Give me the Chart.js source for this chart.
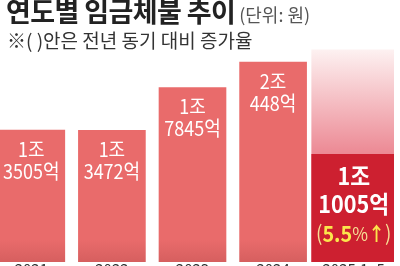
<!DOCTYPE html>
<html>
<head>
<meta charset="UTF-8">
<title>연도별 임금체불 추이</title>
<script src="https://cdn.jsdelivr.net/npm/chart.js"></script>
<style>
  html, body { margin: 0; padding: 0; width: 400px; height: 266px; overflow: hidden; background: #fff; }
  #wrap { position: relative; width: 400px; height: 266px; overflow: hidden; font-family: "Noto Sans CJK KR", sans-serif; }
  #chartBox { position: absolute; left: -9px; top: 0; width: 403px; height: 278px; }
  .title { position: absolute; left: 6px; top: -4px; font-size: 27px; font-weight: 700; color: #222; letter-spacing: -0.6px; white-space: nowrap; line-height: 30px; }
  .title span { font-size: 18px; font-weight: 400; color: #555; margin-left: 4px; letter-spacing: 0; }
  .note { position: absolute; left: 7px; top: 28px; font-size: 19px; color: #333; white-space: nowrap; line-height: 24px; }
</style>
</head>
<body>
<div id="wrap">
  <div id="chartBox"><canvas id="wageChart"></canvas></div>
  <div class="title">연도별 임금체불 추이<span>(단위: 원)</span></div>
  <div class="note">※( )안은 전년 동기 대비 증가율</div>
</div>

<script>
  // 단위: 억원
  const years = ['2021', '2022', '2023', '2024', '2025.1~5'];
  const pastValues = [13505, 13472, 17845, 20448, null];
  const currentValues = [null, null, null, null, 11005];
  const backdropValues = [null, null, null, null, 21700];
  const currentChange = '5.5';

  // 조 / 억 으로 나누기
  function splitWon(v) {
    return [Math.floor(v / 10000) + '조', (v % 10000) + '억'];
  }

  function pastColor(c) {
    const area = c.chart.chartArea;
    if (!area) return '#e86a6a';
    const g = c.chart.ctx.createLinearGradient(0, area.bottom - 22, 0, area.bottom);
    g.addColorStop(0, '#e96b6b');
    g.addColorStop(1, '#d65f5f');
    return g;
  }

  function backdropColor(c) {
    const chart = c.chart;
    const y = chart.scales.y;
    if (!chart.chartArea || !y) return '#f3b5bb';
    const top = y.getPixelForValue(backdropValues[4]);
    const bottom = y.getPixelForValue(currentValues[4]);
    const g = chart.ctx.createLinearGradient(0, top, 0, bottom);
    g.addColorStop(0, '#fdf1f1');
    g.addColorStop(1, '#ec8893');
    return g;
  }

  const barLabels = {
    id: 'barLabels',
    afterDatasetsDraw(chart) {
      const ctx = chart.ctx;
      ctx.save();
      ctx.textBaseline = 'middle';
      ctx.fillStyle = '#fff';

      // 지난 해들
      chart.getDatasetMeta(0).data.forEach((bar, i) => {
        const v = pastValues[i];
        if (v == null) return;
        const lines = splitWon(v);
        ctx.save();
        ctx.translate(bar.x, bar.y);
        ctx.scale(0.9, 1);
        ctx.textAlign = 'center';
        ctx.font = '20px "Noto Sans CJK KR"';
        ctx.fillText(lines[0], 0, 19);
        ctx.fillText(lines[1], 0, 41);
        ctx.restore();
      });

      // 올해
      chart.getDatasetMeta(1).data.forEach((bar, i) => {
        const v = currentValues[i];
        if (v == null) return;
        const lines = splitWon(v);
        ctx.save();
        ctx.translate(bar.x, bar.y);
        ctx.scale(0.9, 1);
        ctx.textAlign = 'center';
        ctx.font = 'bold 24px "Noto Sans CJK KR"';
        ctx.fillText(lines[0], 0, 21);
        ctx.fillText(lines[1], 0, 49);

        const parts = [
          ['(', '21px "Noto Sans CJK KR"', '#f6df95'],
          [currentChange, 'bold 22px "Noto Sans CJK KR"', '#fbe64c'],
          ['%', '19px "Noto Sans CJK KR"', '#f6df95'],
          ['↑', 'bold 19px "Noto Sans CJK KR"', '#fbe64c'],
          [')', '21px "Noto Sans CJK KR"', '#f6df95']
        ];
        let total = 0;
        parts.forEach(p => { ctx.font = p[1]; total += ctx.measureText(p[0]).width; });
        let x = -total / 2;
        ctx.textAlign = 'left';
        parts.forEach(p => {
          ctx.font = p[1];
          ctx.fillStyle = p[2];
          ctx.fillText(p[0], x, 79);
          x += ctx.measureText(p[0]).width;
        });
        ctx.restore();
      });
      ctx.restore();
    }
  };

  const ctx = document.getElementById('wageChart').getContext('2d');
  new Chart(ctx, {
    type: 'bar',
    data: {
      labels: years,
      datasets: [
        {
          data: pastValues,
          backgroundColor: pastColor,
          barThickness: 67,
          grouped: false
        },
        {
          data: currentValues,
          backgroundColor: '#cd2030',
          barThickness: 84,
          grouped: false
        },
        {
          data: backdropValues,
          backgroundColor: backdropColor,
          barThickness: 84,
          grouped: false
        }
      ]
    },
    options: {
      responsive: true,
      maintainAspectRatio: false,
      animation: false,
      layout: { padding: 0 },
      plugins: {
        legend: { display: false },
        tooltip: { enabled: false }
      },
      scales: {
        x: {
          grid: { display: false, drawTicks: false },
          border: { display: false },
          afterFit(scale) { scale.height = 16; },
          ticks: {
            padding: -2,
            color: '#333',
            font: { family: 'Noto Sans CJK KR', size: 15 }
          }
        },
        y: {
          display: false,
          min: 0,
          max: 26800
        }
      }
    },
    plugins: [barLabels]
  });
</script>
</body>
</html>
